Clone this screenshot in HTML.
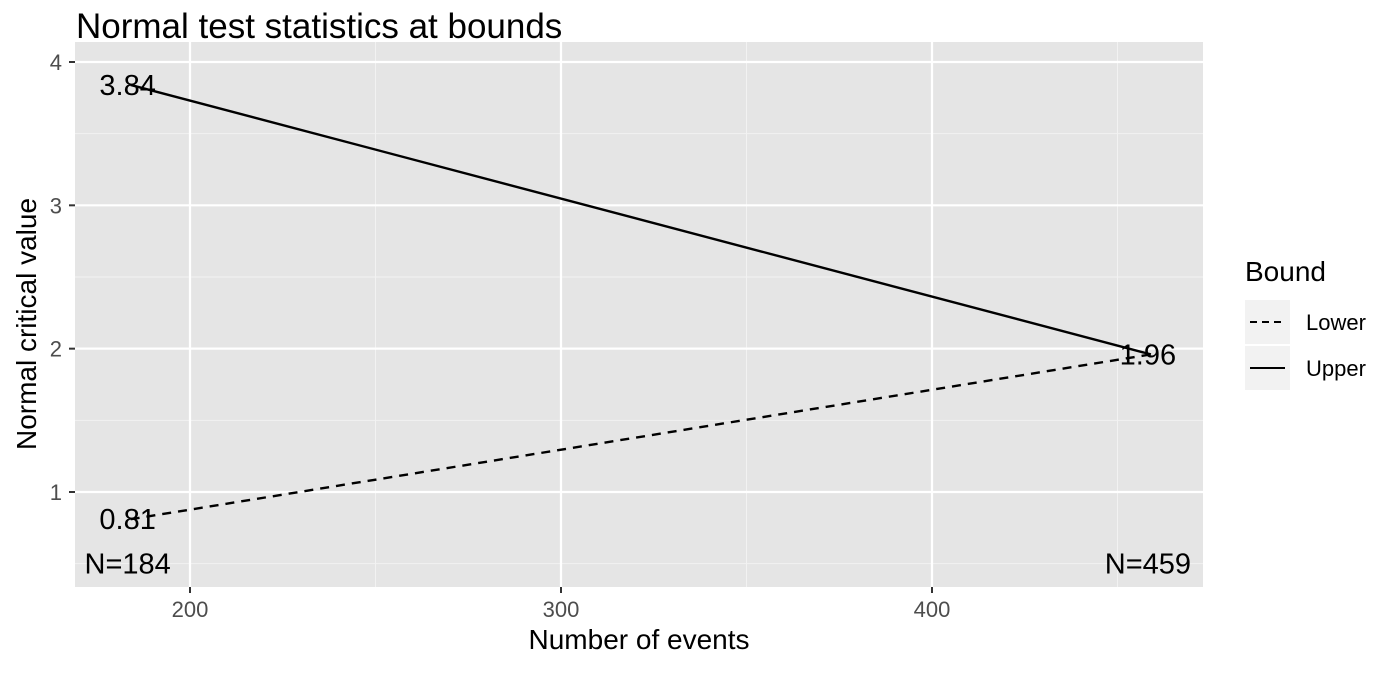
<!DOCTYPE html>
<html><head><meta charset="utf-8"><style>
body{margin:0;background:#fff;}
svg text{font-family:"Liberation Sans",Arial,sans-serif;}
</style></head><body>
<svg id="chart" width="1400" height="672" xmlns="http://www.w3.org/2000/svg">
<text x="76" y="38" font-size="35" fill="#000">Normal test statistics at bounds</text>
<rect x="75" y="42" width="1128" height="545" fill="#e5e5e5"/>
<g id="grid"></g>
<g id="marks"></g>
<g id="axes"></g>
<text x="639" y="649" font-size="28" text-anchor="middle">Number of events</text>
<text transform="translate(36,324) rotate(-90)" font-size="28" text-anchor="middle">Normal critical value</text>
<g>
<text x="1245" y="281" font-size="28">Bound</text>
<rect x="1245" y="300" width="45" height="44" fill="#f2f2f2"/>
<line x1="1250" y1="322" x2="1285" y2="322" stroke="#000" stroke-width="2" stroke-dasharray="7,5"/>
<text x="1306" y="330" font-size="22">Lower</text>
<rect x="1245" y="346" width="45" height="44" fill="#f2f2f2"/>
<line x1="1250" y1="368" x2="1285" y2="368" stroke="#000" stroke-width="2"/>
<text x="1306" y="376" font-size="22">Upper</text>
</g>
</svg>
<script>
const events = [184, 459];
const upper = [3.84, 1.96];
const lower = [0.81, 1.96];
const xTicks = [200, 300, 400];
const xMinor = [250, 350, 450];
const yTicks = [1, 2, 3, 4];
const yMinor = [0.5, 1.5, 2.5, 3.5];
const nLabelY = 0.5;

const NS = "http://www.w3.org/2000/svg";
const x = v => 190 + (v - 200) * 3.71;
const y = v => 62 + (4 - v) * 143.33;
const BOT = 587;
function mk(tag, attrs, parent, text) {
  const e = document.createElementNS(NS, tag);
  for (const k in attrs) e.setAttribute(k, attrs[k]);
  if (text !== undefined) e.textContent = text;
  document.getElementById(parent).appendChild(e);
  return e;
}
xMinor.forEach(v => {
  const e = mk("line", {x1: x(v), x2: x(v), y1: 42, y2: BOT, stroke: "#f2f2f2", "stroke-width": 1}, "grid");
  
  
});
yMinor.forEach(v => {
  const e = mk("line", {x1: 75, x2: 1203, y1: y(v), y2: y(v), stroke: "#f2f2f2", "stroke-width": 1}, "grid");
  
  
});
xTicks.forEach(v => {
  const g = mk("line", {x1: x(v), x2: x(v), y1: 42, y2: BOT, stroke: "#fff", "stroke-width": 2.2}, "grid");
  
  
  const t = mk("line", {x1: x(v), x2: x(v), y1: BOT, y2: BOT + 6, stroke: "#333", "stroke-width": 2}, "axes");
  
  
  const l = mk("text", {x: x(v), y: 617, "font-size": 22, fill: "#4d4d4d", "text-anchor": "middle"}, "axes", String(v));
  
  
});
yTicks.forEach(v => {
  const g = mk("line", {x1: 75, x2: 1203, y1: y(v), y2: y(v), stroke: "#fff", "stroke-width": 2.2}, "grid");
  
  
  const t = mk("line", {x1: 69, x2: 75, y1: y(v), y2: y(v), stroke: "#333", "stroke-width": 2}, "axes");
  
  
  const l = mk("text", {x: 62, y: y(v) + 8, "font-size": 22, fill: "#4d4d4d", "text-anchor": "end"}, "axes", String(v));
  
  
});
const up = mk("line", {x1: x(events[0]), y1: y(upper[0]), x2: x(events[1]), y2: y(upper[1]), stroke: "#000", "stroke-width": 2.4}, "marks");


const lo = mk("line", {x1: x(events[0]), y1: y(lower[0]), x2: x(events[1]), y2: y(lower[1]), stroke: "#000", "stroke-width": 2.4, "stroke-dasharray": "9,7"}, "marks");


function label(v, yv, txt, name) {
  const e = mk("text", {x: x(v) - 3, y: y(yv) + 10, "font-size": 29, "text-anchor": "middle"}, "marks", txt);
  
  
}
label(events[0], upper[0], upper[0].toFixed(2), 'upper-start-label');
label(events[1], upper[1], upper[1].toFixed(2), 'upper-end-label');
label(events[0], lower[0], lower[0].toFixed(2), 'lower-start-label');
label(events[0], nLabelY, "N=" + events[0], 'n-start-label');
label(events[1], nLabelY, "N=" + events[1], 'n-end-label');
</script>
</body></html>
